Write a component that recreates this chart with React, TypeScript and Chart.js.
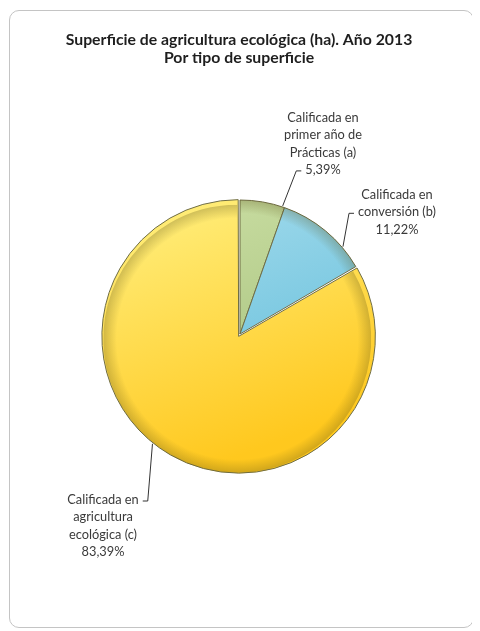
import React, { useEffect, useRef } from "react";
import { Chart, registerables } from "chart.js";

Chart.register(...registerables);

const TITLE_LINES = ["Superficie de agricultura ecológica (ha). Año 2013", "Por tipo de superficie"];
const CATEGORY_LINES = [
  ["Calificada en", "primer año de", "Prácticas (a)"],
  ["Calificada en", "conversión (b)"],
  ["Calificada en", "agricultura", "ecológica (c)"],
];
const VALUES = [5.39, 11.22, 83.39];

const COLORS_TOP = ["#cde0a6", "#a9deee", "#fff183"];
const COLORS_BOTTOM = ["#a4c07a", "#62bdda", "#ffc81e"];
const OFFSETS = [0, 0, 11];

// label layout (canvas coords): first line centre, leader anchor fraction
const LABEL_LAYOUT = [
  { x: 313, y: 107, frac: 0.95, tickLine: 3, side: "left" },
  { x: 387, y: 184, frac: 0.75, tickLine: 1, side: "left" },
  { x: 93, y: 489, frac: 0.53, tickLine: 0, side: "right" },
];

const FONT_LABEL = "12.8px Lato";
const FONT_TITLE = "bold 15.8px Lato";
const LINE_H = 17.3;

const fmtPct = (v: number) => v.toFixed(2).replace(".", ",") + "%";

// same translation Chart.js applies to an offset arc
const arcCentre = (arc: any, off: number) => {
  const { x, y, startAngle, endAngle, outerRadius, circumference } = arc.getProps(
    ["x", "y", "startAngle", "endAngle", "outerRadius", "circumference"],
    true
  );
  const mid = (startAngle + endAngle) / 2;
  const fix = 1 - Math.sin(Math.min(Math.PI, circumference || 0));
  const d = (off / 4) * (1 + fix);
  return { cx: x + Math.cos(mid) * d, cy: y + Math.sin(mid) * d, startAngle, endAngle, outerRadius };
};

const bevelPlugin = {
  id: "bevel",
  afterDatasetsDraw(chart: any) {
    const ctx = chart.ctx as CanvasRenderingContext2D;
    const meta = chart.getDatasetMeta(0);
    meta.data.forEach((arc: any, i: number) => {
      const { cx, cy, startAngle, endAngle, outerRadius } = arcCentre(arc, OFFSETS[i]);
      ctx.save();
      ctx.beginPath();
      ctx.moveTo(cx, cy);
      ctx.arc(cx, cy, outerRadius, startAngle, endAngle);
      ctx.closePath();
      ctx.clip();
      const g = ctx.createRadialGradient(cx, cy, outerRadius * 0.9, cx, cy, outerRadius);
      g.addColorStop(0, "rgba(90,80,20,0)");
      g.addColorStop(1, "rgba(90,80,20,0.28)");
      ctx.fillStyle = g;
      ctx.fillRect(cx - outerRadius, cy - outerRadius, outerRadius * 2, outerRadius * 2);
      ctx.restore();
    });
  },
};

const labelPlugin = {
  id: "labels",
  afterDraw(chart: any) {
    const ctx = chart.ctx as CanvasRenderingContext2D;
    ctx.save();
    ctx.fillStyle = "#1e1e1e";
    ctx.font = FONT_TITLE;
    ctx.textAlign = "center";
    ctx.textBaseline = "middle";
    const tcx = (chart.chartArea.left + chart.chartArea.right) / 2 - 1;
    ctx.fillText(TITLE_LINES[0], tcx, 29);
    ctx.fillText(TITLE_LINES[1], tcx, 47);

    const meta = chart.getDatasetMeta(0);
    meta.data.forEach((arc: any, i: number) => {
      const lay = LABEL_LAYOUT[i];
      const lines = [...CATEGORY_LINES[i], fmtPct(VALUES[i])];
      ctx.font = FONT_LABEL;
      ctx.fillStyle = "#3a3a3a";
      lines.forEach((t, k) => ctx.fillText(t, lay.x, lay.y + k * LINE_H));
      const { cx, cy, startAngle, endAngle, outerRadius } = arcCentre(arc, OFFSETS[i]);
      const a = startAngle + lay.frac * (endAngle - startAngle);
      const px = cx + Math.cos(a) * (outerRadius + 1);
      const py = cy + Math.sin(a) * (outerRadius + 1);
      const ty = lay.y + lay.tickLine * LINE_H + 1;
      const w = ctx.measureText(lines[lay.tickLine]).width;
      let x0, x1;
      if (lay.side === "left") {
        x0 = lay.x - w / 2 - 4;
        x1 = x0 - 5;
      } else {
        x0 = lay.x + w / 2 + 4;
        x1 = x0 + 5;
      }
      ctx.strokeStyle = "#333333";
      ctx.lineWidth = 1;
      ctx.beginPath();
      ctx.moveTo(x0, ty);
      ctx.lineTo(x1, ty);
      ctx.lineTo(px, py);
      ctx.stroke();
    });
    ctx.restore();
  },
};

export default function App() {
  const ref = useRef<HTMLCanvasElement>(null);
  useEffect(() => {
    const canvas = ref.current!;
    const chart = new Chart(canvas, {
      type: "pie",
      data: {
        labels: CATEGORY_LINES.map((c) => c.join(" ")),
        datasets: [
          {
            data: VALUES,
            backgroundColor: (c: any) => {
              const area = c.chart.chartArea;
              const i = c.dataIndex ?? 0;
              if (!area) return COLORS_BOTTOM[i];
              const g = c.chart.ctx.createLinearGradient(area.left, area.top, area.left + area.width * 0.35, area.bottom);
              g.addColorStop(0, COLORS_TOP[i]);
              g.addColorStop(1, COLORS_BOTTOM[i]);
              return g;
            },
            borderColor: "#6f6d45",
            borderWidth: 1,
            offset: OFFSETS,
            radius: 134,
          },
        ],
      },
      options: {
        responsive: false,
        animation: false,
        layout: { padding: { left: 90, right: 93, top: 188, bottom: 158 } },
        plugins: {
          legend: { display: false },
          tooltip: { enabled: false },
          title: { display: false },
        },
      },
      plugins: [bevelPlugin, labelPlugin],
    } as any);
    return () => chart.destroy();
  }, []);
  return (
    <div
      style={{
        marginTop: 2,
        marginLeft: 1,
        width: 465,
        height: 618,
        boxSizing: "border-box",
        border: "1px solid #c4c4c4",
        borderRadius: 10,
        background: "#fff",
      }}
    >
      <canvas ref={ref} width={463} height={616} style={{ display: "block" }} />
    </div>
  );
}
